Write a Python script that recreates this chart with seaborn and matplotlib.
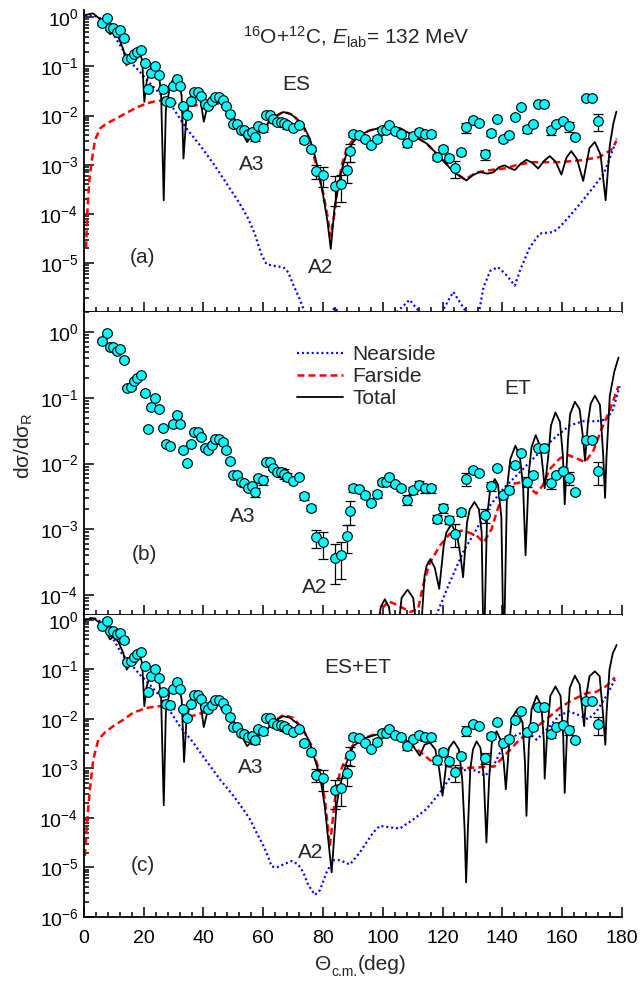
import numpy as np
import matplotlib
matplotlib.use('Agg')
import matplotlib.pyplot as plt
import seaborn as sns
from matplotlib.ticker import MultipleLocator, LogLocator, NullFormatter

# measured points, same set in every panel
theta_exp = [6.1, 7.6, 8.7, 9.8, 10.9, 12.0, 13.4, 14.4, 15.6, 16.7,
             17.8, 19.2, 20.3, 21.5, 22.6, 23.9, 25.0, 26.3, 27.4, 28.7,
             29.8, 31.0, 32.1, 33.2, 34.6, 35.7, 36.8, 38.0, 39.3, 40.4,
             41.5, 42.8, 43.9, 45.2, 46.5, 47.6, 48.9, 50.0, 51.3, 52.4,
             53.6, 55.0, 56.1, 57.3, 58.4, 59.8, 60.8, 62.2, 63.3, 64.7,
             65.9, 66.8, 67.8, 69.8, 71.9, 73.7, 75.9, 77.8, 79.9, 84.0,
             86.0, 88.1, 89.0, 89.9, 92.0, 94.0, 96.0, 98.0, 99.9, 101.0,
             102.0, 104.0, 106.1, 108.2, 110.1, 112.1, 114.1, 116.1, 118.0, 120.0,
             122.1, 124.1, 126.1, 128.0, 130.2, 132.2, 134.2, 136.2, 138.2, 140.2,
             142.2, 144.2, 146.2, 148.2, 150.2, 152.1, 154.0, 156.2, 158.1, 160.2,
             162.2, 164.2, 168.1, 170.1, 172.2]
sig_exp = [0.745, 0.96, 0.59, 0.60, 0.51, 0.55, 0.38, 0.143, 0.145, 0.18,
           0.20, 0.22, 0.117, 0.034, 0.072, 0.10, 0.068, 0.035, 0.020, 0.0187,
           0.040, 0.055, 0.040, 0.016, 0.0102, 0.020, 0.030, 0.030, 0.025, 0.0174,
           0.0158, 0.0194, 0.0236, 0.024, 0.021, 0.0159, 0.0108, 0.0068, 0.0068, 0.0052,
           0.0050, 0.0042, 0.0046, 0.0037, 0.0061, 0.0056, 0.0104, 0.0104, 0.0084, 0.0074,
           0.0074, 0.0070, 0.0063, 0.0055, 0.0063, 0.0032, 0.0021, 0.00075, 0.00063, 0.00037,
           0.0004, 0.00079, 0.0019, 0.0042, 0.0041, 0.0033, 0.0025, 0.0034, 0.0052, 0.0052,
           0.0063, 0.0048, 0.0042, 0.0028, 0.0039, 0.0047, 0.0042, 0.0042, 0.00145, 0.0021,
           0.00139, 0.00086, 0.0018, 0.0058, 0.0080, 0.0072, 0.00163, 0.0045, 0.0085, 0.0033,
           0.0040, 0.0095, 0.0146, 0.0053, 0.0067, 0.0174, 0.0174, 0.0050, 0.0067, 0.0076,
           0.0060, 0.0037, 0.023, 0.023, 0.0077]
err_pct = [5, 5, 5, 5, 5, 5, 5, 5, 5, 5,
           5, 5, 5, 5, 5, 5, 5, 5, 5, 5,
           5, 5, 5, 5, 5, 5, 5, 5, 5, 5,
           5, 5, 5, 5, 5, 5, 5, 5, 5, 5,
           5, 5, 5, 16, 5, 16, 5, 5, 5, 5,
           15, 18, 15, 5, 5, 12, 10, 30, 45, 60,
           57, 45, 40, 12, 8, 8, 8, 13, 8, 8,
           8, 8, 8, 17, 12, 15, 14, 14, 15, 15,
           15, 38, 12, 22, 8, 6, 25, 15, 6, 10,
           12, 8, 6, 17, 10, 6, 6, 18, 8, 12,
           22, 8, 10, 6, 38]

# (a) ES
ang_a_near = [0.3, 3.0, 5.4, 8.7, 10.9, 12.6, 14.3, 16.5, 18.7, 21.0,
              25.4, 29.9, 34.3, 38.8, 43.3, 47.7, 52.2, 55.0, 57.2, 59.4,
              61.1, 64.5, 66.7, 68.4, 70.0, 72.3, 73.9, 76.0, 80.0, 82.0,
              84.0, 86.5, 90.0, 100.0, 104.6, 109.0, 112.4, 116.0, 119.7, 123.6,
              128.0, 130.0, 132.2, 133.7, 136.0, 138.6, 141.4, 144.2, 145.9, 149.2,
              152.6, 157.1, 159.3, 162.5, 166.0, 170.5, 174.0, 177.0, 178.3]
sig_a_near = [1.05, 1.1, 0.95, 0.6, 0.35, 0.24, 0.16, 0.107, 0.078, 0.053,
              0.028, 0.014, 0.0055, 0.0025, 1.06e-3, 4.2e-4, 1.6e-4, 8e-5, 3.9e-5, 1.5e-5,
              9.5e-6, 8.6e-6, 8.3e-6, 6.5e-6, 3.7e-6, 1.8e-6, 1e-6, 4e-7, 4e-7, 9e-7,
              1.25e-6, 8e-7, 3e-7, 3e-7, 1e-6, 1.8e-6, 1e-6, 4e-7, 1e-6, 2.6e-6,
              1e-6, 4e-7, 1e-6, 3.2e-6, 7e-6, 8.3e-6, 5.7e-6, 3.5e-6, 7e-6, 2.1e-5,
              4e-5, 4.3e-5, 5.5e-5, 9e-5, 1.6e-4, 3.5e-4, 6.6e-4, 2e-3, 3.4e-3]
ang_a_far = [0.7, 1.1, 1.8, 2.6, 3.7, 5.4, 7.6, 10.9, 14.3, 17.6,
             21.0, 24.3, 27.7, 31.0, 34.3, 37.7, 41.0, 43.8, 46.6, 50.0,
             52.2, 54.6, 57.2, 60.0, 63.3, 66.7, 70.0, 73.4, 76.2, 78.4,
             80.0, 81.5, 82.5, 83.8, 85.0, 86.5, 88.0, 90.0, 92.3, 95.7,
             101.3, 105.7, 110.2, 114.7, 119.1, 123.6, 127.5, 131.4, 136.0, 141.3,
             145.0, 150.2, 159.1, 165.8, 172.5, 176.9, 178.2]
sig_a_far = [2e-5, 1e-4, 4.8e-4, 1.2e-3, 3.2e-3, 5.5e-3, 6.9e-3, 8.8e-3, 0.0114, 0.0146,
             0.0176, 0.02, 0.02, 0.0176, 0.015, 0.0163, 0.018, 0.019, 0.015, 0.0075,
             0.0047, 0.0035, 0.0043, 0.006, 0.0088, 0.012, 0.0103, 0.006, 0.0023, 6.6e-4,
             2.8e-4, 9e-5, 3.5e-5, 1e-4, 4e-4, 1.1e-3, 2.2e-3, 3.2e-3, 4e-3, 5e-3,
             6e-3, 5.5e-3, 4e-3, 2.7e-3, 1.45e-3, 7.5e-4, 5e-4, 7e-4, 7.8e-4, 8.5e-4,
             1e-3, 1.13e-3, 1.13e-3, 1.22e-3, 1.43e-3, 2.1e-3, 3.1e-3]
ang_a_tot = [0.3, 3.0, 5.4, 7.6, 8.7, 9.8, 11.5, 13.2, 14.2, 15.6,
             17.1, 18.5, 19.5, 20.2, 21.0, 22.6, 23.8, 24.9, 25.8, 26.7,
             27.4, 28.8, 30.4, 31.6, 32.7, 33.3, 34.3, 36.0, 37.3, 38.8,
             40.1, 41.6, 43.3, 44.6, 46.1, 47.7, 50.0, 52.2, 54.6, 56.1,
             57.8, 60.0, 62.2, 64.5, 66.7, 68.9, 71.1, 73.4, 75.6, 77.3,
             78.6, 80.0, 81.5, 82.6, 83.9, 85.1, 86.2, 87.9, 90.1, 92.3,
             95.7, 101.3, 105.7, 110.2, 114.7, 119.1, 123.6, 128.0, 130.2, 132.5,
             135.0, 137.0, 139.0, 140.8, 142.6, 144.2, 146.2, 148.1, 150.0, 152.0,
             154.0, 155.9, 157.9, 159.8, 161.5, 163.1, 165.0, 167.1, 169.2, 171.0,
             172.9, 174.6, 176.0, 177.2, 178.2]
sig_a_tot = [1.1, 1.2, 0.91, 0.6, 0.45, 0.5, 0.4, 0.22, 0.105, 0.14,
             0.2, 0.215, 0.13, 0.019, 0.05, 0.1, 0.12, 0.08, 0.03, 0.00019,
             0.013, 0.04, 0.065, 0.055, 0.025, 0.00134, 0.01, 0.027, 0.033, 0.025,
             0.0075, 0.018, 0.024, 0.024, 0.019, 0.014, 0.0095, 0.0055, 0.0029, 0.0038,
             0.0046, 0.0055, 0.0075, 0.0100, 0.0118, 0.011, 0.0088, 0.0063, 0.0034, 0.0015,
             0.0007, 0.00025, 7e-5, 1.95e-5, 1.4e-4, 3.5e-4, 7.7e-4, 0.0017, 0.0029, 0.004,
             0.005, 0.0061, 0.0055, 0.004, 0.0027, 0.00145, 0.00072, 0.00048, 0.00062, 0.00071,
             0.00066, 0.0007, 0.0009, 0.00097, 0.00085, 0.00078, 0.00105, 0.00126, 0.0011, 0.00084,
             0.0012, 0.0015, 0.00115, 0.00063, 0.0014, 0.0019, 0.0013, 0.00047, 0.0022, 0.0029,
             0.0016, 0.00019, 0.0025, 0.007, 0.012]

# (b) ET
ang_b_near = [117.0, 118.0, 122.4, 126.9, 131.4, 135.9, 140.3, 144.8, 149.2, 153.6,
              158.1, 162.6, 167.1, 171.5, 174.9, 177.1, 179.3]
sig_b_near = [3.5e-5, 5e-5, 1.55e-4, 4.5e-4, 1e-3, 2.3e-3, 4.1e-3, 6.6e-3, 0.0105, 0.0167,
              0.026, 0.038, 0.044, 0.044, 0.047, 0.067, 0.15]
ang_b_far = [97.5, 99.5, 101.9, 105.0, 109.1, 111.8, 113.5, 115.8, 119.1, 122.4,
             126.9, 131.4, 133.8, 136.4, 138.1, 140.3, 143.6, 146.4, 149.2, 151.4,
             153.6, 155.9, 159.3, 162.0, 164.9, 167.7, 170.5, 173.3, 176.1, 178.9]
sig_b_far = [3e-5, 6e-5, 8e-5, 7e-5, 5.5e-5, 6e-5, 1.4e-4, 3.1e-4, 5.6e-4, 8.5e-4,
             9.6e-4, 8e-4, 6.3e-4, 1e-3, 1.8e-3, 3.6e-3, 4.9e-3, 5.2e-3, 4.2e-3, 3.5e-3,
             4.7e-3, 8.2e-3, 0.012, 0.0135, 0.012, 0.0105, 0.0157, 0.034, 0.067, 0.15]
ang_b_tot = [98.0, 99.3, 100.7, 102.1, 103.5, 105.2, 106.3, 108.3, 110.2, 111.3,
             113.0, 114.0, 114.7, 115.9, 117.4, 118.9, 120.4, 121.3, 123.0, 124.9,
             126.0, 126.9, 128.2, 129.1, 130.7, 132.2, 133.1, 133.8, 134.9, 136.0,
             137.5, 138.6, 139.7, 140.5, 141.6, 142.7, 144.4, 145.9, 147.0, 147.8,
             148.9, 149.8, 151.2, 152.8, 153.6, 154.2, 155.4, 156.3, 157.8, 159.3,
             160.3, 160.9, 162.0, 162.7, 164.3, 165.9, 167.1, 167.7, 168.7, 169.6,
             171.0, 172.7, 173.8, 174.4, 174.9, 176.0, 177.5, 178.9]
sig_b_tot = [2e-5, 6.5e-5, 8.6e-5, 6.5e-5, 2e-5, 3e-5, 9e-5, 1.2e-4, 9e-5, 3e-5,
             4e-5, 1.96e-4, 2.8e-4, 3.5e-4, 2.6e-4, 1.24e-4, 5.6e-4, 8.9e-4, 1.2e-3, 8e-4,
             4e-4, 1.86e-4, 1.26e-3, 2e-3, 2.6e-3, 2e-3, 9e-4, 1e-5, 1.5e-3, 4.2e-3,
             5.8e-3, 4.7e-3, 1.5e-3, 1e-5, 4.2e-3, 0.0117, 0.0187, 0.013, 4.2e-3, 4e-4,
             7.3e-3, 0.0177, 0.027, 0.0177, 8.2e-3, 4.2e-3, 0.013, 0.038, 0.06, 0.043,
             0.013, 2.4e-3, 0.023, 0.056, 0.087, 0.067, 0.023, 0.011, 0.043, 0.081,
             0.108, 0.078, 0.013, 3e-3, 0.013, 0.108, 0.25, 0.41]

# (c) ES+ET
ang_c_near = [0.3, 3.1, 5.4, 8.7, 10.9, 12.6, 14.3, 16.5, 18.7, 21.0,
              25.4, 28.8, 32.1, 36.6, 41.0, 45.5, 50.0, 53.3, 55.5, 57.8,
              60.0, 61.7, 62.8, 64.5, 66.7, 69.5, 71.7, 73.4, 75.0, 77.3,
              79.0, 81.2, 83.4, 85.6, 89.0, 92.3, 96.8, 99.0, 105.7, 110.2,
              114.6, 119.1, 123.6, 128.0, 131.4, 134.2, 137.0, 140.3, 144.8, 148.1,
              151.5, 154.8, 159.3, 162.6, 166.0, 168.8, 171.5, 174.9, 177.7]
sig_c_near = [1.0, 1.1, 0.92, 0.54, 0.31, 0.21, 0.157, 0.111, 0.078, 0.057,
              0.029, 0.0143, 7.1e-3, 3.3e-3, 1.4e-3, 6e-4, 2.8e-4, 1.5e-4, 9.5e-5, 5e-5,
              2.8e-5, 1.6e-5, 1.05e-5, 1e-5, 1.15e-5, 1.35e-5, 1.15e-5, 8e-6, 4.5e-6, 2.8e-6,
              3.5e-6, 8e-6, 1.4e-5, 1.4e-5, 1.15e-5, 2e-5, 5.1e-5, 6.9e-5, 6.1e-5, 9.3e-5,
              1.5e-4, 3.2e-4, 8.1e-4, 9.4e-4, 9e-4, 7e-4, 1.1e-3, 2.8e-3, 4.8e-3, 5.6e-3,
              3.8e-3, 6e-3, 0.012, 0.014, 0.0116, 9.8e-3, 0.014, 0.029, 0.062]
ang_c_far = [0.3, 1.1, 2.0, 3.1, 4.8, 7.0, 9.8, 13.2, 16.5, 21.0,
             25.4, 28.8, 32.7, 36.0, 39.9, 44.4, 46.6, 50.0, 55.0, 58.0,
             62.0, 66.7, 70.0, 73.0, 76.0, 79.0, 80.6, 82.3, 84.0, 85.6,
             88.0, 90.1, 93.5, 97.0, 101.0, 105.0, 110.2, 116.9, 124.6, 132.5,
             137.5, 141.4, 145.8, 150.3, 154.8, 159.3, 163.7, 168.2, 171.5, 174.9,
             177.7]
sig_c_far = [1.7e-5, 9.4e-5, 3.8e-4, 1.5e-3, 3.8e-3, 5.3e-3, 7.1e-3, 9.6e-3, 0.0133, 0.0166,
             0.018, 0.0166, 0.0143, 0.0113, 0.0133, 0.0166, 0.0155, 9e-3, 4e-3, 4.5e-3,
             7.5e-3, 0.012, 0.0105, 6.5e-3, 3e-3, 8e-4, 2.4e-4, 2.7e-5, 2.4e-4, 8e-4,
             1.8e-3, 3e-3, 4e-3, 4.8e-3, 5e-3, 4.3e-3, 2.8e-3, 1.3e-3, 1e-3, 1.05e-3,
             1.1e-3, 2e-3, 3.8e-3, 6e-3, 9.8e-3, 0.0167, 0.0245, 0.033, 0.035, 0.046,
             0.068]
ang_c_tot = [0.3, 3.1, 5.4, 7.6, 8.7, 9.8, 11.5, 13.2, 14.3, 15.6,
             17.1, 18.5, 19.5, 20.2, 21.0, 22.6, 23.8, 24.9, 25.8, 26.7,
             27.4, 28.8, 30.4, 31.6, 32.7, 33.5, 34.3, 36.0, 37.5, 38.8,
             40.1, 41.6, 43.3, 44.6, 46.1, 47.7, 50.0, 52.2, 54.6, 56.1,
             57.8, 60.0, 62.2, 64.5, 66.7, 68.9, 71.1, 73.4, 75.6, 77.3,
             79.0, 80.6, 82.9, 84.5, 85.6, 87.9, 90.1, 93.5, 97.9, 101.3,
             104.6, 107.5, 110.2, 112.4, 114.0, 115.8, 117.6, 118.9, 120.0, 121.3,
             122.2, 123.8, 125.5, 126.6, 127.4, 127.9, 128.5, 129.3, 130.2, 131.4,
             132.7, 133.8, 134.7, 135.6, 136.5, 138.1, 139.4, 140.5, 141.2, 142.4,
             143.3, 145.0, 146.8, 147.6, 148.1, 148.9, 149.8, 151.5, 153.1, 153.9,
             154.2, 155.1, 156.1, 157.8, 159.5, 160.4, 160.9, 161.8, 162.6, 164.3,
             165.9, 166.8, 167.4, 168.1, 169.2, 171.0, 172.6, 173.7, 174.5, 174.9,
             175.9, 177.0, 178.3]
sig_c_tot = [1.0, 1.08, 0.86, 0.54, 0.40, 0.45, 0.36, 0.21, 0.098, 0.13,
             0.2, 0.21, 0.13, 0.018, 0.045, 0.09, 0.107, 0.072, 0.029, 1.8e-4,
             0.0132, 0.039, 0.057, 0.049, 0.0245, 1.35e-3, 9.6e-3, 0.0245, 0.031, 0.0245,
             6.8e-3, 0.0166, 0.021, 0.0217, 0.018, 0.0133, 9.1e-3, 5.3e-3, 2.8e-3, 3.5e-3,
             4.5e-3, 4.9e-3, 7.1e-3, 9.6e-3, 0.0113, 0.0105, 8.3e-3, 6.1e-3, 3.3e-3, 1.5e-3,
             7e-4, 1.7e-4, 8e-6, 1.7e-4, 4.4e-4, 1.3e-3, 2.8e-3, 4e-3, 4.8e-3, 5.2e-3,
             4.6e-3, 3.8e-3, 2.8e-3, 1.8e-3, 3e-3, 3.3e-3, 2.4e-3, 9.5e-4, 2.8e-4, 1.3e-3,
             2.6e-3, 3.5e-3, 2.4e-3, 6e-4, 5.9e-5, 5e-6, 5.9e-5, 9.6e-4, 2.4e-3, 3.5e-3,
             2.6e-3, 7e-4, 3.2e-5, 6e-4, 3.3e-3, 5.6e-3, 3.8e-3, 1.3e-3, 3.8e-4, 3.8e-3,
             0.0105, 0.0155, 8.3e-3, 1.3e-3, 1.1e-4, 2.8e-3, 0.0155, 0.029, 0.018, 3.8e-3,
             6.2e-4, 6e-3, 0.029, 0.045, 0.029, 4.5e-3, 3.2e-4, 8.3e-3, 0.042, 0.074,
             0.049, 0.0155, 7.1e-3, 0.029, 0.072, 0.091, 0.072, 0.013, 3e-3, 0.013,
             0.1, 0.21, 0.31]

sns.set_theme(style='ticks', rc={'axes.edgecolor': 'black', 'axes.linewidth': 1.3,
                                 'xtick.color': 'black', 'ytick.color': 'black'})
plt.rcParams['font.family'] = ['Liberation Sans', 'DejaVu Sans']
plt.rcParams['mathtext.fontset'] = 'custom'
plt.rcParams['mathtext.rm'] = 'Liberation Sans'
plt.rcParams['mathtext.it'] = 'Liberation Sans:italic'
plt.rcParams['mathtext.bf'] = 'Liberation Sans:bold'

fig, axes = plt.subplots(3, 1, sharex=True, figsize=(6.41, 9.81), dpi=100)
fig.subplots_adjust(left=0.131, right=0.970, top=0.9898, bottom=0.0652, hspace=0)

panels = [
    dict(near=(ang_a_near, sig_a_near), far=(ang_a_far, sig_a_far), tot=(ang_a_tot, sig_a_tot),
         ylim=(1e-6, 1.4), decs=range(0, -7, -1), nolabel=[-6],
         texts=[(0.506, 0.908, r'$^{16}$O+$^{12}$C, $E_{\rm lab}$= 132 MeV'),
                (0.394, 0.752, 'ES'), (0.312, 0.49, 'A3'), (0.44, 0.149, 'A2'),
                (0.108, 0.181, '(a)')]),
    dict(near=(ang_b_near, sig_b_near), far=(ang_b_far, sig_b_far), tot=(ang_b_tot, sig_b_tot),
         ylim=(5e-5, 2.0), decs=range(0, -5, -1), nolabel=[],
         texts=[(0.807, 0.748, 'ET'), (0.296, 0.325, 'A3'), (0.429, 0.089, 'A2'),
                (0.112, 0.199, '(b)')]),
    dict(near=(ang_c_near, sig_c_near), far=(ang_c_far, sig_c_far), tot=(ang_c_tot, sig_c_tot),
         ylim=(1e-6, 1.26), decs=range(0, -7, -1), nolabel=[],
         texts=[(0.509, 0.825, 'ES+ET'), (0.310, 0.493, 'A3'), (0.422, 0.212, 'A2'),
                (0.109, 0.172, '(c)')]),
]

th = np.array(theta_exp)
sg = np.array(sig_exp)
er = sg * np.array(err_pct) / 100.0

for i, (ax, p) in enumerate(zip(axes, panels)):
    lab = (lambda s: s) if i == 1 else (lambda s: None)
    sns.lineplot(x=p['near'][0], y=p['near'][1], ax=ax, color='#0000FF', lw=1.6,
                 ls=(0, (0.9, 1.3)), estimator=None, sort=False, zorder=2, label=lab('Nearside'))
    sns.lineplot(x=p['far'][0], y=p['far'][1], ax=ax, color='#FF0000', lw=1.8,
                 ls=(0, (2.8, 1.6)), estimator=None, sort=False, zorder=2, label=lab('Farside'))
    sns.lineplot(x=p['tot'][0], y=p['tot'][1], ax=ax, color='black', lw=1.3,
                 estimator=None, sort=False, zorder=2, label=lab('Total'))
    ax.errorbar(th, sg, yerr=er, fmt='none', ecolor='black', elinewidth=0.9,
                capsize=3.5, capthick=0.9, zorder=3)
    sns.scatterplot(x=th, y=sg, ax=ax, color='#00FFFF', edgecolor='black', linewidth=0.8,
                    s=48, zorder=4)

    ax.set_yscale('log')
    ax.set_xlim(0, 180)
    ax.set_yticks([10.0 ** k for k in p['decs']])
    ax.set_yticklabels(['' if k in p['nolabel'] else r'$10^{%d}$' % k for k in p['decs']])
    ax.yaxis.set_minor_locator(LogLocator(base=10, subs=np.arange(2, 10), numticks=60))
    ax.yaxis.set_minor_formatter(NullFormatter())
    ax.set_ylim(*p['ylim'])
    ax.xaxis.set_major_locator(MultipleLocator(20))
    ax.xaxis.set_minor_locator(MultipleLocator(4))
    ax.tick_params(which='both', direction='in', top=False, right=False, width=1.1,
                   labelsize=14)
    ax.tick_params(which='major', length=7)
    ax.tick_params(which='minor', length=3.5)
    ax.tick_params(axis='y', pad=4)
    ax.tick_params(axis='x', pad=9)
    ax.spines['top'].set_visible(False)
    ax.spines['right'].set_visible(False)
    ax.set_xlabel('')
    ax.set_ylabel('')
    for x, y, s in p['texts']:
        ax.text(x, y, s, transform=ax.transAxes, ha='center', va='center', fontsize=15)

axes[1].legend(loc='upper left', bbox_to_anchor=(0.396, 0.892), frameon=False, fontsize=15,
               handlelength=2.2, handletextpad=0.45, labelspacing=0.15,
               borderaxespad=0, borderpad=0)
for ax in (axes[0], axes[2]):
    if ax.get_legend() is not None:
        ax.get_legend().remove()

fig.text(0.037, 0.5454, 'd\u03c3/d\u03c3$_{\\rm R}$', rotation=90, ha='center', va='center',
         fontsize=15)

# x label: Theta, small "c.m." subscript, then "(deg)", laid out piece by piece
rend = fig.canvas.get_renderer()
W = fig.bbox.width
t1 = fig.text(315 / 641, 1 - 970 / 981, '\u0398', fontsize=15, ha='left', va='baseline')
x2 = t1.get_window_extent(rend).x1 / W
t2 = fig.text(x2, 1 - 976 / 981, 'c.m.', fontsize=10, ha='left', va='baseline')
x3 = t2.get_window_extent(rend).x1 / W
fig.text(x3, 1 - 970 / 981, '(deg)', fontsize=15, ha='left', va='baseline')

fig.savefig('out.png', dpi=100)
